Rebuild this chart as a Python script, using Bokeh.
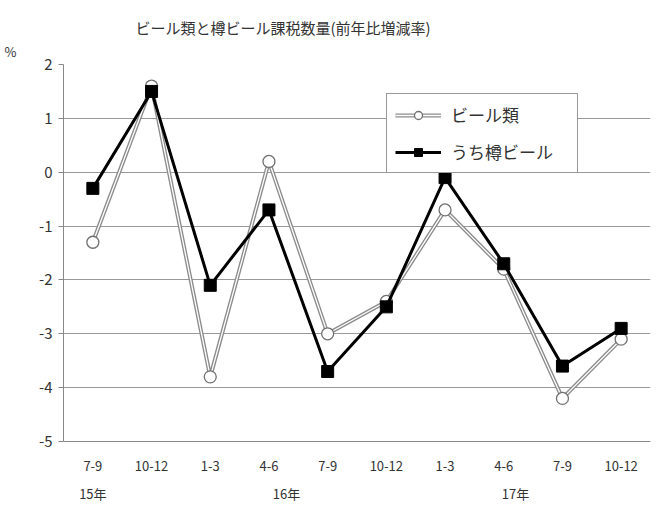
from bokeh.plotting import figure
from bokeh.models import Range1d, FixedTicker, LinearAxis, Legend, LegendItem, Title
from bokeh.embed import file_html
from bokeh.resources import INLINE

quarters = ["7-9", "10-12", "1-3", "4-6", "7-9", "10-12", "1-3", "4-6", "7-9", "10-12"]
years = ["15年", "16年", "17年"]
year_pos = [1, 4.3, 8.2]
beer = [-1.3, 1.6, -3.8, 0.2, -3.0, -2.4, -0.7, -1.8, -4.2, -3.1]
keg = [-0.3, 1.5, -2.1, -0.7, -3.7, -2.5, -0.1, -1.7, -3.6, -2.9]
yticks = [-5, -4, -3, -2, -1, 0, 1, 2]

FONT = "Noto Sans CJK JP"
TXT = "#333333"
xs = list(range(1, len(quarters) + 1))

p = figure(width=658, height=510, output_backend="svg", toolbar_location=None, title=None,
           x_range=Range1d(0.5, len(quarters) + 0.5), y_range=Range1d(-5, 2),
           min_border_left=63, min_border_right=8, min_border_top=64, min_border_bottom=69)
p.outline_line_color = None
p.background_fill_color = "white"
p.border_fill_color = "white"

pct = Title(text="%", align="left", offset=-59, text_font=FONT, text_font_size="13px",
            text_font_style="normal", text_color=TXT, standoff=7)
p.add_layout(pct, "above")
ttl = Title(text="ビール類と樽ビール課税数量(前年比増減率)", align="left", offset=72,
            text_font=FONT, text_font_size="15px", text_font_style="normal",
            text_color=TXT, standoff=-2)
p.add_layout(ttl, "above")

p.yaxis.ticker = FixedTicker(ticks=yticks)
p.yaxis.major_label_overrides = {t: str(t) for t in yticks}
p.yaxis.major_label_text_font = FONT
p.yaxis.major_label_text_font_size = "15px"
p.yaxis.major_label_text_color = TXT
p.yaxis.axis_line_color = "#888888"
p.yaxis.major_tick_line_color = "#888888"
p.yaxis.major_tick_in = 0
p.yaxis.major_tick_out = 5
p.yaxis.minor_tick_line_color = None
p.yaxis.major_label_standoff = 6

p.xaxis.ticker = FixedTicker(ticks=xs)
p.xaxis.major_label_overrides = {x: q for x, q in zip(xs, quarters)}
p.xaxis.major_label_text_font = FONT
p.xaxis.major_label_text_font_size = "13px"
p.xaxis.major_label_text_color = TXT
p.xaxis.axis_line_color = "#888888"
p.xaxis.major_tick_line_color = None
p.xaxis.minor_tick_line_color = None
p.xaxis.major_label_standoff = 13

yax = LinearAxis(ticker=FixedTicker(ticks=year_pos),
                 major_label_overrides={x: y for x, y in zip(year_pos, years)})
yax.axis_line_color = None
yax.major_tick_line_color = None
yax.minor_tick_line_color = None
yax.major_label_text_font = FONT
yax.major_label_text_font_size = "13px"
yax.major_label_text_color = TXT
yax.major_label_standoff = 4
p.add_layout(yax, "below")

p.xgrid.grid_line_color = None
p.ygrid.grid_line_color = "#999999"
p.ygrid.ticker = FixedTicker(ticks=yticks)

# beer: double gray line with white core
b1 = p.line(xs, beer, line_color="#8c8c8c", line_width=4)
b2 = p.line(xs, beer, line_color="white", line_width=1.3)
b3 = p.scatter(xs, beer, marker="circle", size=12, fill_color="white", line_color="#707070", line_width=1.3)

k1 = p.line(xs, keg, line_color="black", line_width=3)
k2 = p.scatter(xs, keg, marker="square", size=12, fill_color="black", line_color="black")

legend = Legend(items=[LegendItem(label="ビール類", renderers=[b1, b2, b3]),
                       LegendItem(label="うち樽ビール", renderers=[k1, k2])],
                location=(323, 268))
legend.label_text_font = FONT
legend.label_text_font_size = "17px"
legend.label_text_color = TXT
legend.border_line_color = "#333333"
legend.border_line_width = 1
legend.glyph_width = 46
legend.label_width = 118
legend.spacing = 12
legend.padding = 8
legend.margin = 0
legend.label_standoff = 10
legend.background_fill_alpha = 1
p.add_layout(legend, "center")

open("out.html", "w").write(file_html(p, INLINE))
